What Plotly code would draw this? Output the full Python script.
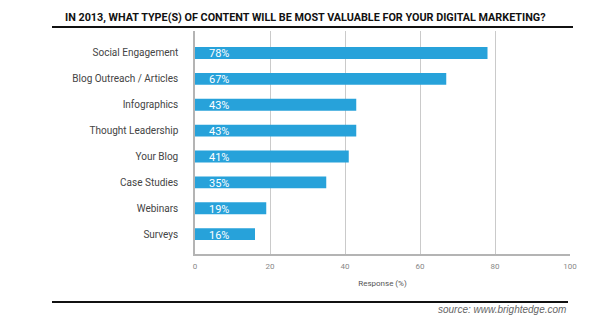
import plotly.graph_objects as go

categories = ["Social Engagement", "Blog Outreach / Articles", "Infographics",
              "Thought Leadership", "Your Blog", "Case Studies", "Webinars", "Surveys"]
values = [78, 67, 43, 43, 41, 35, 19, 16]
labels = [f"{v}%" for v in values]
x_ticks = [0, 20, 40, 60, 80, 100]

FONT = "Roboto, Liberation Sans, sans-serif"

fig = go.Figure(go.Bar(
    x=values, y=categories, orientation="h",
    marker=dict(color="#27a2da", line=dict(width=0)),
    width=0.46,
    hoverinfo="x+y",
))

for cat, lab in zip(categories, labels):
    fig.add_annotation(x=0, y=cat, xref="x", yref="y", text=lab, showarrow=False,
                       xanchor="left", yanchor="middle", xshift=12, yshift=-1,
                       font=dict(color="white", size=11, family=FONT))

fig.update_layout(
    width=600, height=324,
    margin=dict(l=195, r=30, t=31, b=70),
    paper_bgcolor="white", plot_bgcolor="white",
    showlegend=False,
    xaxis=dict(range=[0, 100], tickvals=x_ticks, showgrid=True, gridcolor="#cacaca",
               gridwidth=1.3, zeroline=False, showline=True, linecolor="#b4b4b4", linewidth=1.5,
               ticks="", ticklabelstandoff=4,
               tickfont=dict(size=8, color="#888888", family=FONT),
               title=dict(text="Response (%)", font=dict(size=8, color="#555555", family=FONT),
                          standoff=10),
               fixedrange=True),
    yaxis=dict(categoryorder="array", categoryarray=categories, range=[7.77, -0.85],
               showgrid=False, zeroline=False, showline=True, linecolor="#b4b4b4", linewidth=1.5,
               ticks="", ticklabelstandoff=13,
               tickfont=dict(size=10, color="#444444", family=FONT)),
    font=dict(family=FONT),
)

fig.add_annotation(
    text="<b>IN 2013, WHAT TYPE(S) OF CONTENT WILL BE MOST VALUABLE FOR YOUR DIGITAL MARKETING?</b>",
    xref="paper", yref="paper", x=(305 - 195) / 375, y=1, yshift=14,
    xanchor="center", yanchor="middle", showarrow=False,
    font=dict(size=10.8, color="#111111", family=FONT),
)
y_title_line = 1 + (31 - 27) / 223
fig.add_shape(type="line", xref="paper", yref="paper",
              x0=(52 - 195) / 375, x1=(573 - 195) / 375, y0=y_title_line, y1=y_title_line,
              line=dict(color="#111111", width=2))
y_bottom_line = -(302 - 254) / 223
fig.add_shape(type="line", xref="paper", yref="paper",
              x0=(52 - 195) / 375, x1=(568 - 195) / 375, y0=y_bottom_line, y1=y_bottom_line,
              line=dict(color="#111111", width=2))
fig.add_annotation(
    text="<i>source: www.brightedge.com</i>",
    xref="paper", yref="paper", x=(568 - 195) / 375, y=-(309 - 254) / 223,
    xanchor="right", yanchor="middle", showarrow=False,
    font=dict(size=10, color="#666666", family="Liberation Sans, Arial, sans-serif"),
)

fig.write_html("out.html")
